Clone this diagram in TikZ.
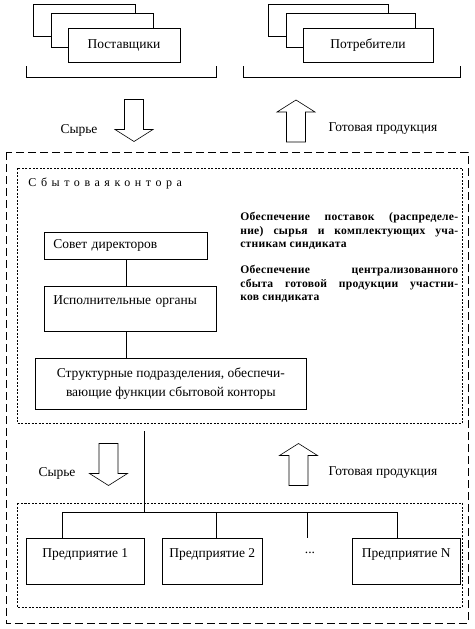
\documentclass[tikz,border=0pt]{standalone}
\usepackage{fontspec}
\setmainfont{Liberation Serif}
\newfontfamily\spacedfont[LetterSpace=38]{Liberation Serif}
\newfontfamily\taskfont[LetterSpace=2.5]{Liberation Serif}
\usetikzlibrary{calc}
\tikzset{%
	stackbox/.style = {draw, fill=white, inner sep=0pt, minimum height=34pt},
	unitbox/.style  = {draw, inner xsep=9pt, inner ysep=0pt, anchor=north west},
	firmbox/.style  = {draw, inner ysep=0pt, minimum height=46pt, text height=19.5pt, text depth=26.5pt, anchor=north west},
	dashbox/.style  = {dash pattern=on 8pt off 4pt},
	dotbox/.style   = {dash pattern=on 2pt off 1.5pt},
	blockarrow/.pic = {\draw (-9.5,0) -- (-9.5,30) -- (-19,30) -- (0,42) -- (19,30) -- (9.5,30) -- (9.5,0) -- cycle;},
}
\begin{document}
\begin{tikzpicture}[x=1pt,y=-1pt,line width=0.6pt,every node/.style={font=\fontsize{13.5pt}{16pt}\selectfont}]
	\useasboundingbox (0,0) rectangle (474,629);
	
	% suppliers and consumers
	\node[stackbox, minimum width=102pt, minimum height=32pt] (sup3) at (84,20) {};
	\node[stackbox, minimum width=102pt] (sup2) at (102,30) {};
	\node[stackbox, minimum width=112pt] (sup1) at (124,45) {Поставщики};
	\node[stackbox, minimum width=120pt, minimum height=32pt] (con3) at (328,20) {};
	\node[stackbox, minimum width=129pt] (con2) at (350.5,30) {};
	\node[stackbox, minimum width=130pt] (con1) at (368,45) {Потребители};
	\draw (26,66) |- (216,77) -- (216,66);
	\draw (243,66) |- (460,77) -- (460,66);
	
	\pic at (134,99.5) {blockarrow};
	\pic[rotate=180] at (296,142) {blockarrow};
	\node (raw1) at (79,130) {Сырье};
	\node[anchor=west] (goods1) at (325,129) {Готовая продукция};
	
	\draw[dashbox] (6,152) rectangle (468,623);
	\draw[dotbox] (17,168) rectangle (462,423);
	\node[anchor=west, inner sep=0pt] (office) at (28,183) {\spacedfont\fontsize{12pt}{14pt}\selectfont Сбытоваяконтора};
	
	% management of the office
	\node[unitbox, minimum width=163pt, minimum height=27pt, text width=145pt] (sovet) at (44,232) {Совет директоров};
	\node[unitbox, minimum width=172pt, text width=154pt, text height=18.5pt, text depth=26.5pt] (isp) at (44,286) {Исполнительные органы};
	\node[unitbox, minimum width=271pt, minimum height=51pt, align=center, font=\fontsize{13.5pt}{19pt}\selectfont] (struct) at (35,358) {Структурные подразделения, обеспечи-\\вающие функции сбытовой конторы};
	\draw (sovet.south) -- (sovet.south |- isp.north);
	\draw (isp.south -| sovet.south) -- (struct.north -| sovet.south);
	
	\node[anchor=north west, inner sep=0pt, text width=218pt, align=justify, font=\taskfont\bfseries\fontsize{11.6pt}{13.5pt}\selectfont] (tasks) at (240,212) {Обеспечение поставок (распределе-\linebreak ние) сырья и комплектующих уча-\linebreak стникам синдиката\par\vskip 12.5pt Обеспечение централизованного\linebreak сбыта готовой продукции участни-\linebreak ков синдиката};
	
	\pic at (108.5,443.5) {blockarrow};
	\pic[rotate=180] at (298.5,485.5) {blockarrow};
	\node (raw2) at (57,473) {Сырье};
	\node[anchor=west] (goods2) at (325,473) {Готовая продукция};
	
	% enterprises
	\draw[dotbox] (17,503) rectangle (462,607);
	\node[firmbox, minimum width=118pt] (f1) at (26,538) {Предприятие 1};
	\node[firmbox, minimum width=100pt] (f2) at (162,538) {Предприятие 2};
	\node[firmbox, minimum width=108pt] (fN) at (352,538) {Предприятие N};
	\node (dots) at (310,553) {...};
	\coordinate (trunk) at (144,431);
	\coordinate (d1) at (62,512);
	\coordinate (d2) at (216,512);
	\coordinate (d3) at (307,512);
	\coordinate (dN) at (397,512);
	\draw (trunk) -- (trunk |- d1);
	\draw (d1) -- (dN);
	\foreach \d/\f in {d1/f1,d2/f2,d3/f1,dN/fN} \draw (\d) -- (\d |- \f.north);
\end{tikzpicture}
\end{document}
